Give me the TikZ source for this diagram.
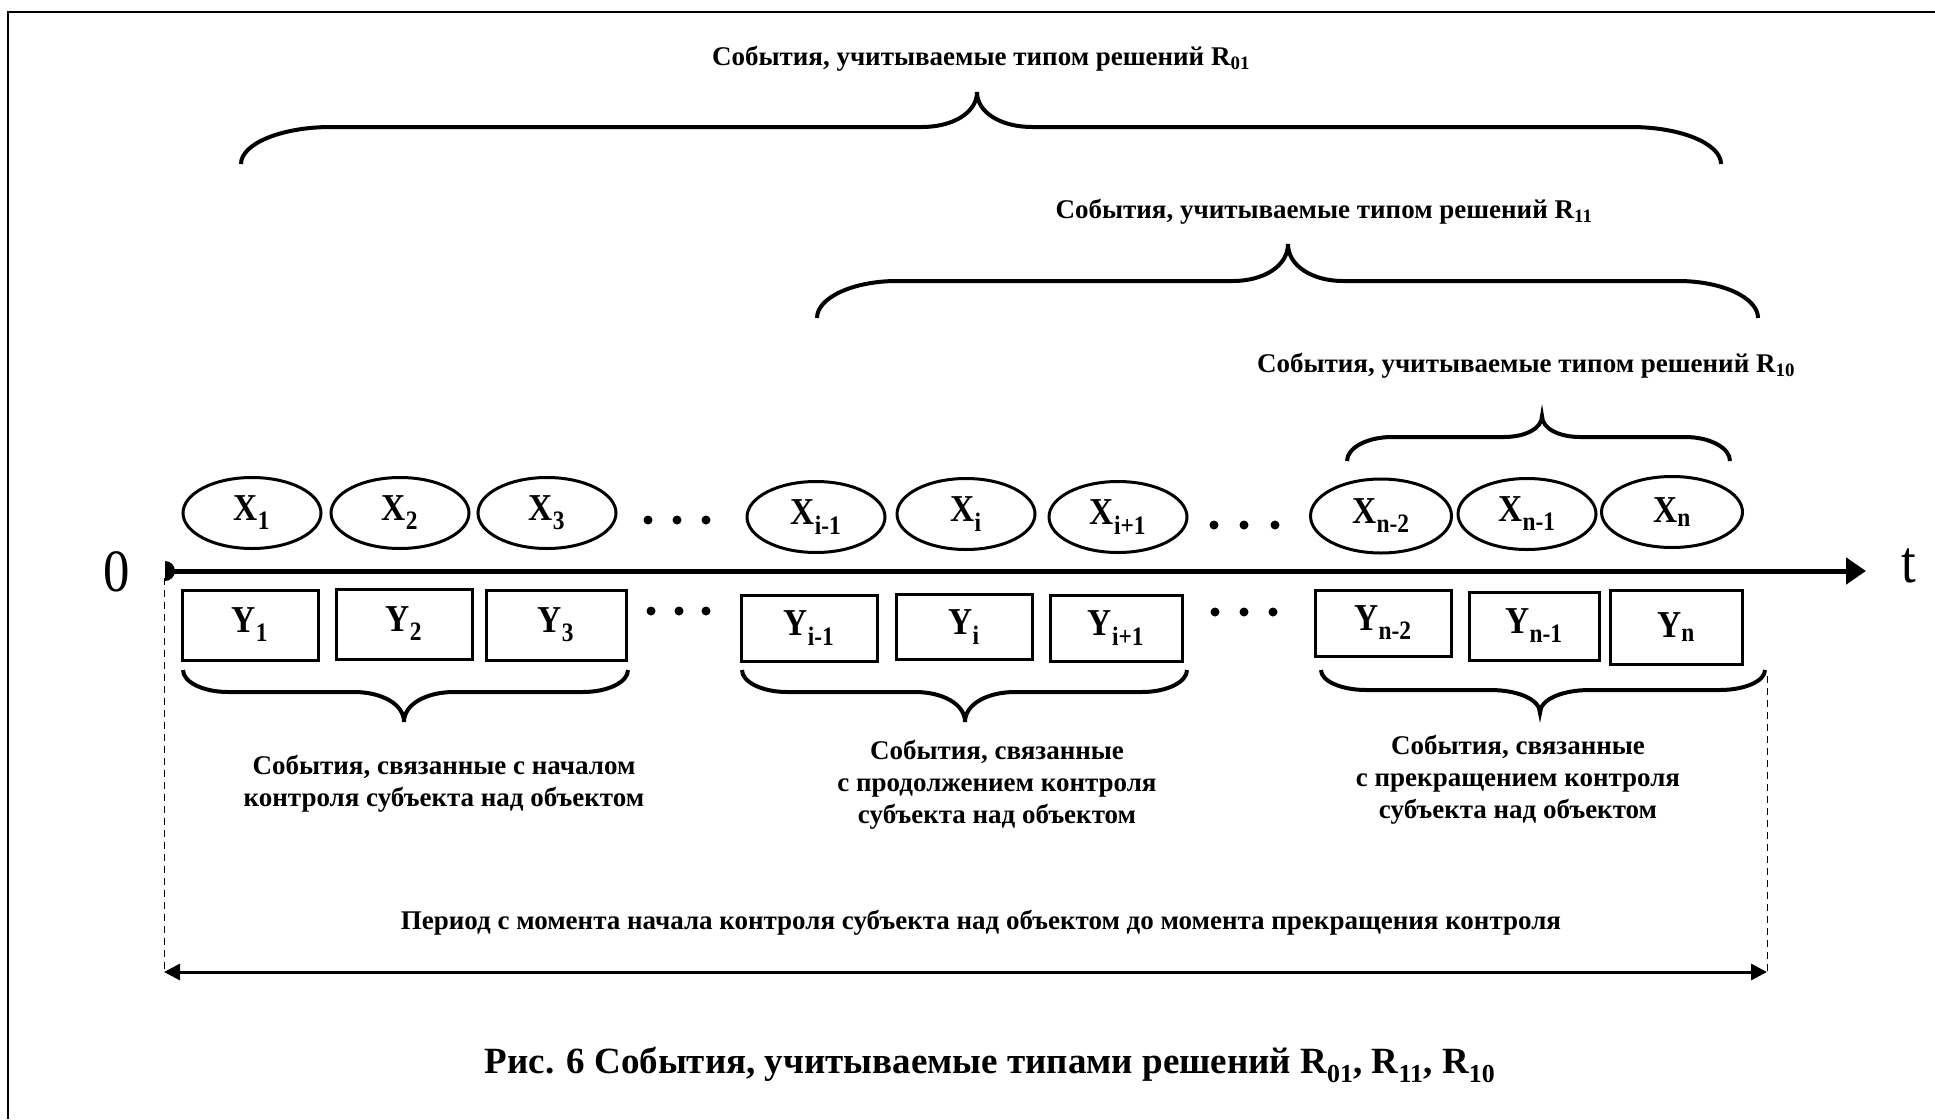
\documentclass[tikz,border=0pt]{standalone}
\usepackage{fontspec}
\setmainfont{Liberation Serif}
\newfontfamily\cond{Liberation Serif}[FakeStretch=0.88]
\usetikzlibrary{arrows.meta,shapes.geometric}
\newcommand\lo[1]{\textsubscript{#1}}
% x0 x1 xm ye yh yt r s
\newcommand\mybrace[8]{%
 \draw[bracestyle] (#1,#4) .. controls (#1,{#5+0.45*(#4-#5)}) and ({#1+0.45*#7},#5) .. ({#1+#7},#5)
   -- ({#3-#8},#5) .. controls ({#3-0.45*#8},#5) and (#3,{#5+0.4*(#6-#5)}) .. (#3,#6)
   .. controls (#3,{#5+0.4*(#6-#5)}) and ({#3+0.45*#8},#5) .. ({#3+#8},#5)
   -- ({#2-#7},#5) .. controls ({#2-0.45*#7},#5) and (#2,{#5+0.45*(#4-#5)}) .. (#2,#4);}
\begin{document}
\begin{tikzpicture}[x=1pt,y=-1pt,
  bracestyle/.style={line width=4pt},
  xell/.style={ellipse,draw,line width=3pt,minimum width=138pt,minimum height=71pt,inner sep=0pt,font=\cond\fontsize{38}{44}\selectfont\bfseries},
  ybox/.style={rectangle,draw,line width=3pt,minimum width=136pt,minimum height=70pt,inner sep=0pt,font=\cond\fontsize{38}{44}\selectfont\bfseries},
  lab/.style={align=center,inner sep=0pt,font=\fontsize{27}{32}\selectfont\bfseries},
  dotst/.style={circle,fill,inner sep=0pt,minimum size=9pt},
  axlab/.style={inner sep=0pt,font=\cond\fontsize{60}{64}\selectfont}]
\useasboundingbox (0,0) rectangle (1935,1119);
\draw[line width=2.5pt] (8,1119) -- (8,12) -- (1935,12);

% titles and upper braces
\node[lab] (t1) at (981,59) {События, учитываемые типом решений R\lo{01}};
\mybrace{241}{1721}{977}{164}{127}{92}{90}{55}
\node[lab] (t2) at (1324,212) {События, учитываемые типом решений R\lo{11}};
\mybrace{817}{1758}{1288}{318}{281}{244}{80}{55}
\node[lab] (t3) at (1526,366) {События, учитываемые типом решений R\lo{10}};
\mybrace{1347}{1730}{1542}{461}{437}{416}{45}{38}

% ellipses
\node[xell] (x1) at (252,513) {X\lo{1}};
\node[xell] (x2) at (400,513) {X\lo{2}};
\node[xell] (x3) at (547,513) {X\lo{3}};
\node[dotst] (d1) at (648,520) {};
\node[dotst] (d2) at (677,520) {};
\node[dotst] (d3) at (706,520) {};
\node[xell] (xim) at (816,517) {X\lo{i-1}};
\node[xell] (xi) at (966,514) {X\lo{i}};
\node[xell] (xip) at (1118,517) {X\lo{i+1}};
\node[dotst] (d4) at (1214,525) {};
\node[dotst] (d5) at (1244,525) {};
\node[dotst] (d6) at (1275,525) {};
\node[xell,minimum width=141pt,minimum height=74pt] (xn2) at (1381,516) {X\lo{n-2}};
\node[xell] (xn1) at (1527,514) {X\lo{n-1}};
\node[xell,minimum width=141pt] (xn) at (1672,512) {X\lo{n}};

% axis
\coordinate (a0) at (165,571);
\coordinate (a1) at (1866,571);
\draw[line width=5pt,-{Triangle[length=20pt,width=26pt]}] (a0) -- (a1);
\fill (a0) ++(0,-10) arc[start angle=-90,end angle=90,radius=10] -- cycle;
\node[axlab] (zero) at (117,572) {0};
\node[axlab] (tt) at (1909,566) {t};

% boxes
\node[ybox] (y1) at (250,625) {Y\lo{1}};
\node[ybox] (y2) at (404,624) {Y\lo{2}};
\node[ybox,minimum width=140pt] (y3) at (556,625) {Y\lo{3}};
\node[dotst] (e1) at (651,611) {};
\node[dotst] (e2) at (679,611) {};
\node[dotst] (e3) at (706,611) {};
\node[ybox,minimum height=66pt] (yim) at (809,628) {Y\lo{i-1}};
\node[ybox,minimum height=65pt] (yi) at (964,627) {Y\lo{i}};
\node[ybox,minimum width=132pt,minimum height=66pt] (yip) at (1116,628) {Y\lo{i+1}};
\node[dotst] (e4) at (1215,612) {};
\node[dotst] (e5) at (1244,612) {};
\node[dotst] (e6) at (1273,612) {};
\node[ybox,minimum height=66pt] (yn2) at (1383,623) {Y\lo{n-2}};
\node[ybox,minimum width=130pt,minimum height=68pt] (yn1) at (1534,626) {Y\lo{n-1}};
\node[ybox,minimum width=132pt,minimum height=74pt] (yn) at (1676,627) {Y\lo{n}};

% lower braces
\mybrace{183}{628}{404}{670}{692}{722}{45}{50}
\mybrace{742}{1187}{965}{670}{692}{722}{45}{50}
\mybrace{1321}{1765}{1540}{670}{690}{713}{45}{50}

\node[lab] (l1) at (444,784) {События, связанные с началом\\контроля субъекта над объектом};
\node[lab] (l2) at (997,785) {События, связанные\\с продолжением контроля\\субъекта над объектом};
\node[lab] (l3) at (1518,780) {События, связанные\\с прекращением контроля\\субъекта над объектом};

% period
\coordinate (dl0) at (164,578);
\coordinate (dl1) at (164,972);
\coordinate (dr0) at (1767,676);
\coordinate (dr1) at (1767,972);
\draw[line width=1pt,dash pattern=on 7pt off 5pt] (dl0) -- (dl1);
\draw[line width=1pt,dash pattern=on 7pt off 5pt] (dr0) -- (dr1);
\draw[line width=3pt,{Triangle[length=16pt,width=16pt]}-{Triangle[length=16pt,width=16pt]}] (dl1) -- (dr1);
\node[lab] (per) at (981,923) {Период с момента начала контроля субъекта над объектом до момента прекращения контроля};

\node[inner sep=0pt,font=\fontsize{37}{42}\selectfont\bfseries] (cap) at (990,1065) {Рис. 6 События, учитываемые типами решений R\lo{01}, R\lo{11}, R\lo{10}};
\end{tikzpicture}
\end{document}
